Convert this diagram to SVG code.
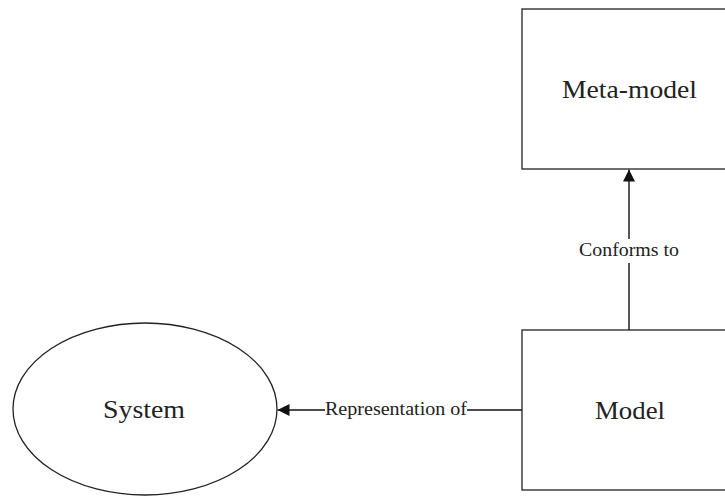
<svg xmlns="http://www.w3.org/2000/svg" width="725" height="497" viewBox="0 0 725 497">
  <style>
    .shape { fill: #ffffff; stroke: #222222; stroke-width: 1.3; }
    .edge { fill: none; stroke: #111111; stroke-width: 1.4; }
    .node-label { font-family: 'Liberation Serif', 'DejaVu Serif', serif; font-size: 26px; fill: #222222; text-anchor: middle; }
    .edge-label { font-family: 'Liberation Serif', 'DejaVu Serif', serif; font-size: 19px; fill: #222222; text-anchor: middle; }
    .label-bg { fill: #ffffff; stroke: none; }
  </style>
  <defs>
    <marker id="arrow" viewBox="0 0 12 12" refX="12" refY="6" markerWidth="12" markerHeight="12" markerUnits="userSpaceOnUse" orient="auto">
      <path d="M0,0 L12,6 L0,12 Z" fill="#111111"/>
    </marker>
  </defs>

  <rect width="725" height="497" fill="#ffffff"/>

  <g id="connectors">
    <g id="edge-conforms">
      <line class="edge" x1="629" y1="330" x2="629" y2="169.5" marker-end="url(#arrow)"/>
      <rect class="label-bg" x="576" y="239" width="106" height="24"/>
      <text class="edge-label" x="629" y="256" textLength="100" lengthAdjust="spacingAndGlyphs">Conforms to</text>
    </g>
    <g id="edge-representation">
      <line class="edge" x1="522" y1="410" x2="277.5" y2="410" marker-end="url(#arrow)"/>
      <rect class="label-bg" x="325" y="399" width="142" height="22"/>
      <text class="edge-label" x="396" y="415" textLength="142" lengthAdjust="spacingAndGlyphs">Representation of</text>
    </g>
  </g>

  <g id="node-metamodel">
    <rect class="shape" x="522" y="9" width="214" height="160"/>
    <text class="node-label" x="629.5" y="98" textLength="135" lengthAdjust="spacingAndGlyphs">Meta-model</text>
  </g>

  <g id="node-model">
    <rect class="shape" x="522" y="330" width="214" height="160"/>
    <text class="node-label" x="630" y="419" textLength="70" lengthAdjust="spacingAndGlyphs">Model</text>
  </g>

  <g id="node-system">
    <ellipse class="shape" cx="145" cy="409" rx="132" ry="86"/>
    <text class="node-label" x="144" y="418" textLength="82" lengthAdjust="spacingAndGlyphs">System</text>
  </g>
</svg>
